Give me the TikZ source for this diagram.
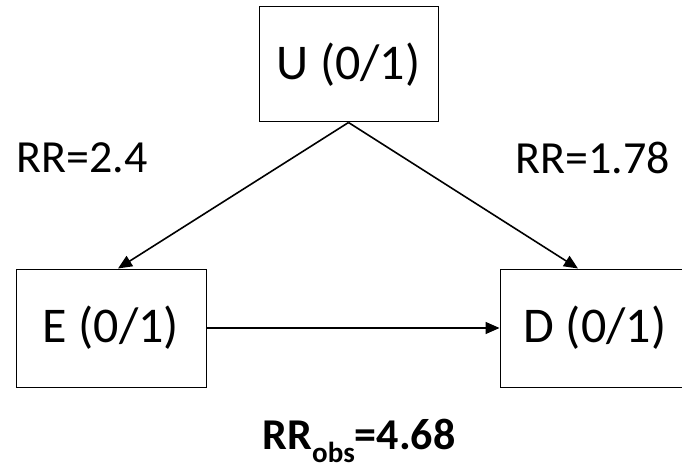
\documentclass[tikz,border=0pt]{standalone}
\usepackage{fontspec}
\setmainfont{Carlito}
\usetikzlibrary{arrows.meta, positioning}

\begin{document}
\begin{tikzpicture}[x=1pt, y=-1pt,
  var/.style={draw, line width=1pt, minimum width=190pt, minimum height=118pt, font=\fontsize{50}{56}\selectfont, inner sep=0pt},
  rr/.style={font=\fontsize{46}{52}\selectfont, inner sep=0pt},
  arrow/.style={-{Triangle[length=14pt, width=12pt]}, line width=1.6pt}
]
\useasboundingbox (0,0) rectangle (682,470);
\node[var, minimum width=179pt, minimum height=115pt] (u) at (348.5,64.5) {U (0/1)};
\node[var] (e) at (111,328) {E (0/1)};
% right side of D runs past the page edge
\node[var] (d) at (595,328) {D (0/1)};

\draw[arrow] (u.south) -- ([xshift=7pt]e.north);
\draw[arrow] (u.south) -- ([xshift=-17pt]d.north);
\draw[arrow] (e) -- (d);

\node[rr] (rrue) at (82,158) {RR=2.4};
\node[rr] (rrud) at (593,158) {RR=1.78};
\node[rr, font=\fontsize{44}{50}\selectfont\bfseries] (rrobs) at (359,441) {RR\raisebox{-0.3em}{\fontsize{29}{32}\selectfont obs}=4.68};
\end{tikzpicture}
\end{document}
